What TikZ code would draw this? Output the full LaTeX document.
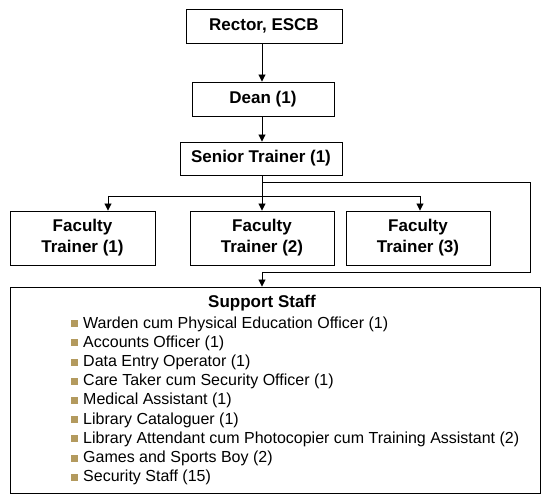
\documentclass[tikz,border=0pt]{standalone}
\usepackage{fontspec}
\setmainfont{Liberation Sans}
\usetikzlibrary{arrows.meta}
\definecolor{bul}{HTML}{B39A5E}
\tikzset{
  box/.style={draw, line width=0.9pt, align=center, font=\bfseries\fontsize{17}{20}\selectfont, inner sep=0pt},
  conn/.style={line width=0.9pt},
  arr/.style={conn, -{Triangle[length=7pt,width=7pt]}},
  item/.style={anchor=west, inner sep=0pt, font=\fontsize{16}{18}\selectfont},
}
\newcommand{\bl}{\textcolor{bul}{\rule[1pt]{7pt}{7pt}}\hspace{5pt}}
\begin{document}
\begin{tikzpicture}[x=1pt,y=-1pt]
\useasboundingbox (0,0) rectangle (550,500);
\node[box, minimum width=156pt, minimum height=34pt] (rector) at (264,26) {Rector, ESCB};
\node[box, minimum width=142pt, minimum height=34pt] (dean) at (263,99) {Dean (1)};
\node[box, minimum width=162pt, minimum height=33pt] (senior) at (261,158.5) {Senior Trainer (1)};
\node[box, minimum width=145pt, minimum height=54pt] (f1) at (82.5,238) {Faculty\\[1pt]Trainer (1)};
\node[box, minimum width=144pt, minimum height=54pt] (f2) at (262,238) {Faculty\\[1pt]Trainer (2)};
\node[box, minimum width=144pt, minimum height=54pt] (f3) at (418,238) {Faculty\\[1pt]Trainer (3)};
\node[draw, line width=0.9pt, minimum width=530pt, minimum height=206pt, inner sep=0pt] (support) at (275,390) {};
\node[font=\bfseries\fontsize{17}{20}\selectfont, inner sep=0pt] (sstitle) at (262,303) {Support Staff};

\coordinate (col) at (262,0);
\draw[arr] (rector.south -| col) -- (dean.north -| col);
\draw[arr] (dean.south -| col) -- (senior.north -| col);

\coordinate (s0) at (262,175);
\coordinate (b1) at (262,182);
\coordinate (br) at (530,182);
\coordinate (brd) at (530,272);
\coordinate (bm) at (262,272);
\coordinate (h1) at (108,196);
\coordinate (h3) at (420,196);
\coordinate (h2) at (262,196);
\draw[conn] (senior.south -| col) -- (h2);
\draw[conn] (b1) -- (br) -- (brd) -- (bm);
\draw[arr] (bm) -- (bm |- support.north);
\draw[conn] (h1) -- (h3);
\draw[arr] (h1) -- (h1 |- f1.north);
\draw[arr] (h2) -- (h2 |- f2.north);
\draw[arr] (h3) -- (h3 |- f3.north);

\node[item] (i1) at (71,324) {\bl Warden cum Physical Education Officer (1)};
\node[item] (i2) at (71,343.2) {\bl Accounts Officer (1)};
\node[item] (i3) at (71,362.4) {\bl Data Entry Operator (1)};
\node[item] (i4) at (71,381.6) {\bl Care Taker cum Security Officer (1)};
\node[item] (i5) at (71,400.8) {\bl Medical Assistant (1)};
\node[item] (i6) at (71,420) {\bl Library Cataloguer (1)};
\node[item] (i7) at (71,439.2) {\bl Library Attendant cum Photocopier cum Training Assistant (2)};
\node[item] (i8) at (71,458.4) {\bl Games and Sports Boy (2)};
\node[item] (i9) at (71,477.6) {\bl Security Staff (15)};
\end{tikzpicture}
\end{document}
